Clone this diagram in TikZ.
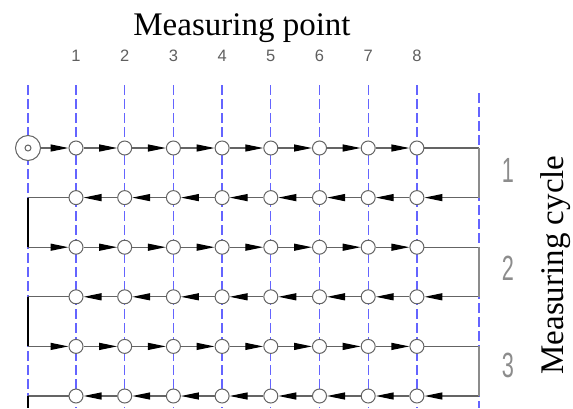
\documentclass[tikz,border=0pt]{standalone}
\usepackage{fontspec}
\setmainfont{Liberation Serif}
\newfontfamily\cadfont{Liberation Sans}
\usepackage{tikz}
\usetikzlibrary{arrows.meta}
\definecolor{GridBlue}{RGB}{100,100,255}
\definecolor{LineGray}{RGB}{100,100,100}
\definecolor{TurnGray}{RGB}{140,140,140}
\definecolor{NumGray}{RGB}{95,95,95}

\begin{document}
\begin{tikzpicture}[x=1pt,y=-1pt,
  pt/.style={circle,draw=LineGray,fill=white,line width=1pt,
             minimum size=14pt,inner sep=0pt},
  axisline/.style={GridBlue,line width=1.3pt,dash pattern=on 10pt off 4pt},
  flow/.style={LineGray,line width=1.2pt,
               -{Triangle[length=18pt,width=7pt,color=black]}},
  run/.style={LineGray,line width=1.2pt},
  turn/.style={TurnGray,line width=1.5pt},
  back/.style={black,line width=1.2pt},
  num/.style={font=\cadfont\fontsize{16.5}{17}\selectfont,text=NumGray},
  cyc/.style={font=\cadfont\fontsize{35}{35}\selectfont,text=TurnGray,xscale=0.62},
]
\useasboundingbox (0,0) rectangle (573,408);
% measuring axes
\draw[axisline] (28,85) -- (28,408);
\foreach \c in {1,...,8}
  \draw[axisline] ({76+48.7*(\c-1)},85) -- ({76+48.7*(\c-1)},408);
\draw[axisline] (479,93) -- (479,408);
% points
\foreach \r in {1,...,6} {
  \coordinate (l\r) at (28,{148+49.6*(\r-1)});
  \coordinate (r\r) at (479,{148+49.6*(\r-1)});
  \foreach \c in {1,...,8}
    \node[pt] (p\r-\c) at ({76+48.7*(\c-1)},{148+49.6*(\r-1)}) {};
}
\coordinate (lend) at (28,408);
\node[circle,draw=LineGray,fill=white,line width=1pt,minimum size=25pt,
      inner sep=0pt] (start) at (l1) {};
\node[circle,draw=LineGray,line width=1pt,minimum size=6pt,inner sep=0pt]
  (startin) at (start) {};
% forward runs
\draw[flow] (start) -- (p1-1);
\draw[flow] (l3) -- (p3-1);
\draw[flow] (l5) -- (p5-1);
\foreach \r in {1,3,5} {
  \foreach \c [count=\n from 2] in {1,...,7}
    \draw[flow] (p\r-\c) -- (p\r-\n);
  \draw[run] (p\r-8) -- (r\r);
}
% backward runs
\foreach \r in {2,4,6} {
  \draw[flow] (r\r) -- (p\r-8);
  \foreach \c [count=\n from 2] in {1,...,7}
    \draw[flow] (p\r-\n) -- (p\r-\c);
  \draw[run] (p\r-1) -- (l\r);
}
% turns
\draw[turn] (r1) -- (r2);
\draw[turn] (r3) -- (r4);
\draw[turn] (r5) -- (r6);
\draw[back] (l2) -- (l3);
\draw[back] (l4) -- (l5);
\draw[back] (l6) -- (lend);
% labels
\node[font=\fontsize{33}{36}\selectfont,anchor=base] (title) at (242,35)
  {Measuring point};
\foreach \c in {1,...,8}
  \node[num] (n\c) at ({76+48.7*(\c-1)},56) {\c};
\node[cyc] (c1) at (508,170) {1};
\node[cyc] (c2) at (508,268) {2};
\node[cyc] (c3) at (508,365) {3};
\node[font=\fontsize{33}{36}\selectfont,rotate=90] (cycle) at (556,265)
  {Measuring cycle};
\end{tikzpicture}
\end{document}
